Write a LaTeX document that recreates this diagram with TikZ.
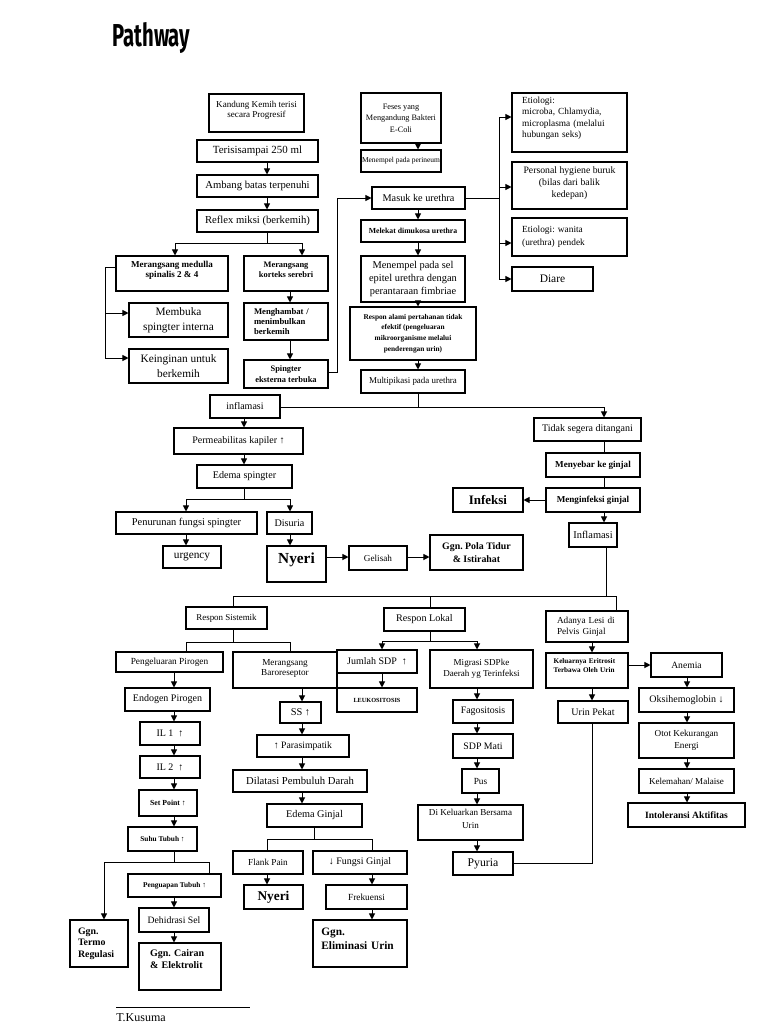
\documentclass[tikz,border=0pt]{standalone}
\usepackage{fontspec}
\usepackage{graphicx}
\setmainfont{Liberation Serif}
\newfontfamily\titlefont{Fira Sans}
\usetikzlibrary{arrows.meta}
\frenchspacing
\newcommand\fs[2]{\fontsize{#1}{#2}\selectfont}
\newcommand\dn[1]{\rule[-#1]{0pt}{0pt}}
\newcommand\bx[6]{\node[box,minimum width={(#4-#2)*0.75pt},minimum height={(#5-#3)*0.75pt},#6] (#1) at ({(#2+#4)/2},{(#3+#5)/2})}
\tikzset{
 box/.style={draw, line width=0.8pt, inner sep=0pt, align=center},
 arr/.style={line width=0.75pt, -{Triangle[length=4.5pt,width=4.5pt]}},
 ln/.style={line width=0.75pt},
 lt/.style={align=left, text width=#1},
}
\begin{document}
\begin{tikzpicture}[x=0.75pt,y=-0.75pt]
\useasboundingbox[fill=white] (0,0) rectangle (768,1024);
\node[anchor=north west, inner sep=0pt] (title) at (112,22) {\resizebox*{58.5pt}{23.3pt}{\titlefont\bfseries Pathway}};

% ---- top left column
\bx{kandung}{209}{94}{304}{132}{font=\fs{6.8}{7.5}}{Kandung Kemih terisi\\secara Progresif\dn{6pt}};
\bx{terisi}{197}{140}{318}{162}{font=\fs{8.2}{10}}{Terisisampai 250 ml};
\bx{ambang}{197}{175}{318}{197}{font=\fs{8}{10}}{Ambang batas terpenuhi};
\bx{reflex}{197}{210}{318}{232}{font=\fs{8}{10}}{Reflex miksi (berkemih)};
\bx{medulla}{116}{256}{228}{291}{font=\bfseries\fs{6.8}{7.8}}{Merangsang medulla\\spinalis 2 \& 4\dn{6pt}};
\bx{kortex}{244}{256}{328}{291}{font=\bfseries\fs{6.3}{7.8}}{Merangsang\\korteks serebri\dn{6pt}};
\bx{membuka}{129}{303}{228}{337}{font=\fs{8.5}{11}}{Membuka\\spingter interna};
\bx{keinginan}{129}{349}{228}{383}{font=\fs{8.5}{11}}{Keinginan untuk\\berkemih};
\bx{menghambat}{244}{303}{328}{340}{font=\bfseries\fs{6.5}{7.2}, lt=48pt}{Menghambat /\\menimbulkan\\berkemih};
\bx{spingter}{244}{360}{328}{388}{font=\bfseries\fs{6.3}{8}}{Spingter\\eksterna terbuka};

% ---- top middle column
\bx{feses}{361}{93}{441}{143}{font=\fs{6.2}{8.7}}{Feses yang\\Mengandung Bakteri\\E-Coli};
\bx{perineum}{361}{150}{441}{172}{font=\fs{5.6}{7}}{Menempel pada perineum};
\bx{masuk}{372}{187}{465}{209}{font=\fs{7.7}{9}}{Masuk ke urethra};
\bx{melekat}{361}{220}{465}{242}{font=\bfseries\fs{5.8}{7}}{Melekat dimukosa urethra};
\bx{menempel}{361}{256}{465}{302}{font=\fs{7.8}{10}}{Menempel pada sel\\epitel urethra dengan\\perantaraan fimbriae};
\bx{alami}{350}{307}{476}{360}{font=\bfseries\fs{5.5}{8}}{Respon alami pertahanan tidak\\efektif (pengeluaran\\mikroorganisme melalui\\penderengan urin)};
\bx{multi}{361}{370}{465}{393}{font=\fs{6.7}{8}}{Multipikasi pada urethra};

% ---- top right column
\bx{etio}{512}{93}{627}{152}{font=\fs{7}{8.5}, lt=71pt}{Etiologi:\\microba, Chlamydia,\\microplasma (melalui\\hubungan seks)\dn{8pt}};
\bx{personal}{512}{162}{627}{209}{font=\fs{7.3}{9}}{Personal hygiene buruk\\(bilas dari balik\\kedepan)\dn{5pt}};
\bx{wanita}{512}{218}{627}{256}{font=\fs{7}{10}, lt=71pt}{Etiologi: wanita\\(urethra) pendek};
\bx{diare}{512}{267}{593}{291}{font=\fs{8.6}{10}}{Diare};

% ---- middle band
\bx{inflamA}{210}{395}{280}{418}{font=\fs{7.5}{9}}{inflamasi};
\bx{perm}{174}{428}{303}{454}{font=\fs{7.5}{9}}{Permeabilitas kapiler ↑};
\bx{edema}{197}{465}{292}{488}{font=\fs{7.6}{9}}{Edema spingter};
\bx{penurunan}{116}{512}{257}{534}{font=\fs{7.8}{9}}{Penurunan fungsi spingter};
\bx{disuria}{267}{512}{312}{534}{font=\fs{7.6}{9}}{Disuria};
\bx{urgency}{163}{546}{221}{568}{font=\fs{8.5}{10}}{urgency};
\bx{nyeriA}{267}{546}{326}{582}{font=\bfseries\fs{11.5}{13}}{Nyeri\dn{9pt}};
\bx{gelisah}{349}{546}{407}{570}{font=\fs{6.9}{8}}{Gelisah};
\bx{pola}{430}{535}{523}{570}{font=\bfseries\fs{7.4}{9.2}}{Ggn. Pola Tidur\\\& Istirahat};
\bx{tidak}{534}{418}{641}{441}{font=\fs{7.5}{9}}{Tidak segera ditangani};
\bx{menyebar}{546}{453}{640}{477}{font=\bfseries\fs{6.8}{8}}{Menyebar ke ginjal};
\bx{menginfeksi}{546}{488}{640}{512}{font=\bfseries\fs{6.8}{8}}{Menginfeksi ginjal};
\bx{infeksi}{453}{488}{523}{512}{font=\bfseries\fs{9.7}{11}}{Infeksi};
\bx{inflamB}{569}{523}{617}{547}{font=\fs{7.8}{9}}{Inflamasi};

% ---- lower band: heads
\bx{respsis}{186}{607}{267}{629}{font=\fs{6.7}{8}}{Respon Sistemik};
\bx{resplok}{384}{608}{465}{631}{font=\fs{7.6}{9}}{Respon Lokal};
\bx{adanya}{546}{611}{628}{642}{font=\fs{6.9}{8}, lt=45pt}{Adanya Lesi di\\Pelvis Ginjal};

% ---- sistemik left
\bx{pengeluaran}{116}{652}{223}{672}{font=\fs{7}{8}}{Pengeluaran Pirogen};
\bx{endogen}{125}{688}{210}{711}{font=\fs{7.5}{9}}{Endogen Pirogen};
\bx{ilA}{140}{722}{200}{745}{font=\fs{7.5}{9}}{IL 1~~↑};
\bx{ilB}{140}{756}{200}{778}{font=\fs{7.5}{9}}{IL 2~~↑};
\bx{setpoint}{139}{790}{197}{816}{font=\bfseries\fs{5.8}{7}}{Set Point ↑};
\bx{suhu}{128}{827}{197}{851}{font=\bfseries\fs{5.5}{7}}{Suhu Tubuh ↑};
\bx{penguapan}{128}{874}{221}{897}{font=\bfseries\fs{5.5}{7}}{Penguapan Tubuh ↑};
\bx{dehidrasi}{139}{908}{209}{932}{font=\fs{7.3}{9}}{Dehidrasi Sel};
\bx{cairan}{139}{943}{221}{990}{font=\bfseries\fs{7.5}{8.5}, lt=45pt}{Ggn. Cairan\\\& Elektrolit\dn{11pt}};
\bx{termo}{70}{920}{128}{967}{font=\bfseries\fs{7.4}{8.75}, lt=31.5pt}{Ggn.\\Termo\\Regulasi};

% ---- sistemik right
\bx{baro}{233}{652}{337}{688}{font=\fs{6.9}{8}}{Merangsang\\Baroreseptor\dn{4pt}};
\bx{ss}{280}{702}{321}{723}{font=\fs{7.8}{9}}{SS ↑};
\bx{para}{257}{735}{349}{757}{font=\fs{7.3}{9}}{↑ Parasimpatik};
\bx{dilatasi}{233}{770}{367}{792}{font=\fs{8}{9}}{Dilatasi Pembuluh Darah};
\bx{edemag}{267}{804}{362}{827}{font=\fs{7.7}{9}}{Edema Ginjal};
\bx{flank}{233}{851}{303}{874}{font=\fs{6.9}{8}}{Flank Pain};
\bx{fungsi}{313}{851}{407}{874}{font=\fs{7.5}{9}}{↓ Fungsi Ginjal};
\bx{nyeriB}{244}{885}{303}{909}{font=\bfseries\fs{10}{11}}{Nyeri};
\bx{frek}{326}{885}{407}{909}{font=\fs{7}{8}}{Frekuensi};
\bx{elim}{313}{920}{407}{967}{font=\bfseries\fs{8.5}{10.7}, lt=58pt}{Ggn.\\Eliminasi Urin\dn{7.5pt}};

% ---- lokal
\bx{jumlah}{337}{650}{417}{673}{font=\fs{7.5}{9}}{Jumlah SDP~~↑};
\bx{leuko}{337}{688}{417}{712}{font=\bfseries\fs{4.7}{6}}{LEUKOSITOSIS};
\bx{migrasi}{430}{650}{533}{688}{font=\fs{6.8}{8.7}}{Migrasi SDPke\\Daerah yg Terinfeksi};
\bx{fago}{453}{700}{513}{723}{font=\fs{7.4}{9}}{Fagositosis};
\bx{mati}{453}{734}{513}{758}{font=\fs{7.4}{9}}{SDP Mati};
\bx{pus}{462}{769}{499}{793}{font=\fs{7}{9}}{Pus};
\bx{dikel}{418}{805}{523}{840}{font=\fs{6.8}{9.5}}{Di Keluarkan Bersama\\Urin\dn{5pt}};
\bx{pyuria}{453}{852}{513}{875}{font=\fs{8.8}{10}}{Pyuria};

% ---- lesi / anemia
\bx{keluar}{546}{653}{628}{688}{font=\bfseries\fs{5.4}{6.8}, lt=50pt}{Keluarnya Eritrosit\\Terbawa Oleh Urin\dn{8pt}};
\bx{urinpekat}{558}{701}{628}{723}{font=\fs{7.5}{9}}{Urin Pekat};
\bx{anemia}{651}{653}{722}{677}{font=\fs{7.2}{9}}{Anemia};
\bx{oksi}{639}{688}{734}{712}{font=\fs{7.5}{9}}{Oksihemoglobin ↓};
\bx{otot}{639}{723}{734}{758}{font=\fs{6.9}{8.7}}{Otot Kekurangan\\Energi};
\bx{lemah}{639}{769}{734}{793}{font=\fs{6.8}{8}}{Kelemahan/ Malaise};
\bx{intol}{628}{803}{745}{827}{font=\bfseries\fs{7.2}{9}}{Intoleransi Aktifitas};

% ---- footer
\coordinate (fa) at (116,1007);
\coordinate (fb) at (250,1007);
\draw[line width=0.6pt] (fa) -- (fb);
\node[anchor=base west, inner sep=0pt, font=\fs{9}{10}] (author) at (116,1021) {T.Kusuma};

% ================= connectors
\draw[arr] (terisi.south -| 267,0) -- (ambang.north -| 267,0);
\draw[arr] (ambang.south -| 267,0) -- (reflex.north -| 267,0);
\coordinate (jA) at (267,243);
\draw[ln] (reflex.south -| jA) -- (jA);
\draw[arr] (jA) -| (medulla.north -| 175,0);
\draw[arr] (jA) -| (kortex.north -| 302,0);
\coordinate (jB) at (105,267);
\coordinate (jC) at (105,313);
\coordinate (jD) at (105,358);
\draw[ln] (medulla.west |- jB) -- (jB) -- (jD);
\draw[arr] (jC) -- (membuka.west |- jC);
\draw[arr] (jD) -- (keinginan.west |- jD);
\draw[arr] (kortex.south -| 290,0) -- (menghambat.north -| 290,0);
\draw[arr] (menghambat.south -| 290,0) -- (spingter.north -| 290,0);
\draw[arr] (spingter.east |- 0,372) -- (337,372) -- (337,198) -- (masuk.west);

\draw[arr] (feses.south -| 418,0) -- (perineum.north -| 418,0);
\draw[arr] (masuk.south -| 418,0) -- (melekat.north -| 418,0);
\draw[arr] (melekat.south -| 418,0) -- (menempel.north -| 418,0);
\draw[arr] (menempel.south -| 418,0) -- (alami.north -| 418,0);
\draw[arr] (alami.south -| 418,0) -- (multi.north -| 418,0);

\coordinate (jE) at (499,198);
\draw[ln] (masuk.east) -- (jE);
\draw[ln] (499,117) -- (499,279);
\draw[arr] (499,117) -- (etio.west |- 0,117);
\draw[arr] (499,187) -- (personal.west |- 0,187);
\draw[arr] (499,243) -- (wanita.west |- 0,243);
\draw[arr] (499,279) -- (diare.west |- 0,279);

\draw[ln] (multi.south -| 418,0) -- (418,407);
\draw[arr] (inflamA.east |- 0,407) -- (604,407) -- (tidak.north -| 604,0);
\draw[arr] (inflamA.south -| 244,0) -- (perm.north -| 244,0);
\draw[arr] (perm.south -| 244,0) -- (edema.north -| 244,0);
\coordinate (jF) at (244,499);
\draw[ln] (edema.south -| jF) -- (jF);
\draw[arr] (jF) -| (penurunan.north -| 186,0);
\draw[arr] (jF) -| (disuria.north -| 290,0);
\draw[arr] (penurunan.south -| 186,0) -- (urgency.north -| 186,0);
\draw[arr] (disuria.south -| 290,0) -- (nyeriA.north -| 290,0);
\draw[arr] (nyeriA.east |- 0,557) -- (gelisah.west |- 0,557);
\draw[arr] (gelisah.east |- 0,557) -- (pola.west |- 0,557);

\draw[ln] (tidak.south -| 604,0) -- (menyebar.north -| 604,0);
\draw[ln] (menyebar.south -| 604,0) -- (menginfeksi.north -| 604,0);
\draw[arr] (menginfeksi.south -| 604,0) -- (inflamB.north -| 604,0);
\draw[arr] (menginfeksi.west |- 0,500) -- (infeksi.east |- 0,500);

\draw[ln] (inflamB.south -| 606,0) -- (606,596);
\draw[ln] (233,596) -- (616,596);
\draw[ln] (233,596) -- (respsis.north -| 233,0);
\draw[ln] (430,596) -- (resplok.north -| 430,0);
\draw[ln] (616,596) -- (adanya.north -| 616,0);

% sistemik
\coordinate (jG) at (233,642);
\draw[ln] (respsis.south -| jG) -- (jG);
\draw[ln] (jG) -| (pengeluaran.north -| 186,0);
\draw[ln] (jG) -| (baro.north -| 290,0);
\draw[arr] (pengeluaran.south -| 174,0) -- (endogen.north -| 174,0);
\draw[arr] (endogen.south -| 174,0) -- (ilA.north -| 174,0);
\draw[arr] (ilA.south -| 174,0) -- (ilB.north -| 174,0);
\draw[arr] (ilB.south -| 174,0) -- (setpoint.north -| 174,0);
\draw[arr] (setpoint.south -| 174,0) -- (suhu.north -| 174,0);
\coordinate (jH) at (174,862);
\draw[ln] (suhu.south -| jH) -- (jH);
\draw[arr] (jH) -| (termo.north -| 104,0);
\draw[ln] (jH) -| (penguapan.north -| 209,0);
\draw[arr] (penguapan.south -| 174,0) -- (dehidrasi.north -| 174,0);
\draw[arr] (dehidrasi.south -| 174,0) -- (cairan.north -| 174,0);

\draw[arr] (baro.south -| 302,0) -- (ss.north -| 302,0);
\draw[arr] (ss.south -| 302,0) -- (para.north -| 302,0);
\draw[arr] (para.south -| 302,0) -- (dilatasi.north -| 302,0);
\draw[arr] (dilatasi.south -| 302,0) -- (edemag.north -| 302,0);
\coordinate (jI) at (314,839);
\draw[ln] (edemag.south -| jI) -- (jI);
\draw[ln] (jI) -| (flank.north -| 267,0);
\draw[ln] (jI) -| (fungsi.north -| 372,0);
\draw[arr] (flank.south -| 267,0) -- (nyeriB.north -| 267,0);
\draw[arr] (fungsi.south -| 372,0) -- (frek.north -| 372,0);
\draw[arr] (frek.south -| 372,0) -- (elim.north -| 372,0);

% lokal
\coordinate (jJ) at (430,641);
\draw[ln] (resplok.south -| jJ) -- (jJ);
\draw[arr] (jJ) -| (jumlah.north -| 382,0);
\draw[arr] (jJ) -| (migrasi.north -| 477,0);
\draw[arr] (jumlah.south -| 382,0) -- (leuko.north -| 382,0);
\draw[arr] (migrasi.south -| 477,0) -- (fago.north -| 477,0);
\draw[arr] (fago.south -| 477,0) -- (mati.north -| 477,0);
\draw[arr] (mati.south -| 477,0) -- (pus.north -| 477,0);
\draw[arr] (pus.south -| 477,0) -- (dikel.north -| 477,0);
\draw[arr] (dikel.south -| 477,0) -- (pyuria.north -| 477,0);
\draw[ln] (pyuria.east |- 0,863) -- (592,863) -- (urinpekat.south -| 592,0);

% lesi
\draw[arr] (adanya.south -| 592,0) -- (keluar.north -| 592,0);
\draw[arr] (keluar.south -| 592,0) -- (urinpekat.north -| 592,0);
\draw[arr] (keluar.east |- 0,665) -- (anemia.west |- 0,665);
\draw[arr] (anemia.south -| 687,0) -- (oksi.north -| 687,0);
\draw[arr] (oksi.south -| 687,0) -- (otot.north -| 687,0);
\draw[arr] (otot.south -| 687,0) -- (lemah.north -| 687,0);
\draw[arr] (lemah.south -| 687,0) -- (intol.north -| 687,0);
\end{tikzpicture}
\end{document}
